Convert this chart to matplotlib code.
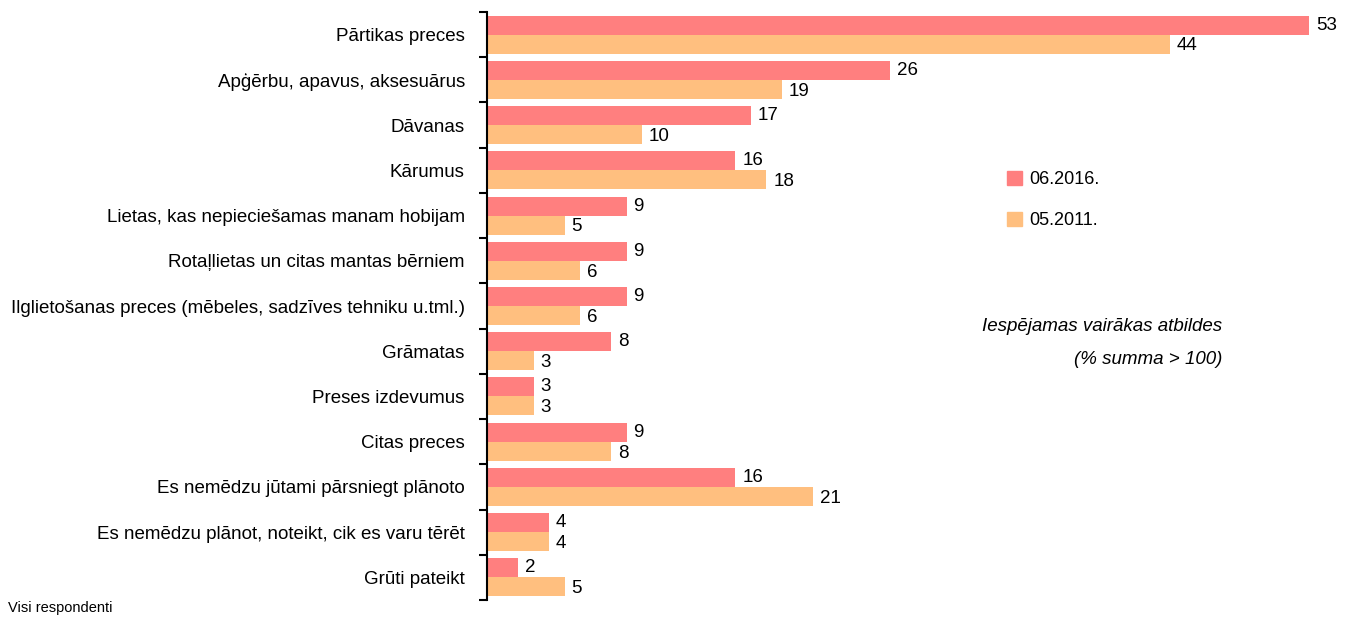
import numpy as np
import matplotlib
matplotlib.use("Agg")
import matplotlib.pyplot as plt
from matplotlib.patches import Patch

plt.rcParams['font.family'] = ['Liberation Sans', 'DejaVu Sans']

# Dati
kategorijas = [
    "Pārtikas preces",
    "Apģērbu, apavus, aksesuārus",
    "Dāvanas",
    "Kārumus",
    "Lietas, kas nepieciešamas manam hobijam",
    "Rotaļlietas un citas mantas bērniem",
    "Ilglietošanas preces (mēbeles, sadzīves tehniku u.tml.)",
    "Grāmatas",
    "Preses izdevumus",
    "Citas preces",
    "Es nemēdzu jūtami pārsniegt plānoto",
    "Es nemēdzu plānot, noteikt, cik es varu tērēt",
    "Grūti pateikt",
]
v_2016 = [53, 26, 17, 16, 9, 9, 9, 8, 3, 9, 16, 4, 2]
v_2011 = [44, 19, 10, 18, 5, 6, 6, 3, 3, 8, 21, 4, 5]
serijas = ["06.2016.", "05.2011."]

krasa_2016 = "#FF7F7F"
krasa_2011 = "#FFBF7F"
fs = 13.5

fig = plt.figure(figsize=(13.51, 6.19), dpi=100)
ax = fig.add_axes([487 / 1351, 19 / 619, 1 - 487 / 1351, 588 / 619])

y = np.arange(len(kategorijas))
h = 0.42
ax.barh(y - h / 2, v_2016, height=h, color=krasa_2016)
ax.barh(y + h / 2, v_2011, height=h, color=krasa_2011)

for yi, v in zip(y, v_2016):
    ax.text(v + 0.45, yi - h / 2, str(v), va="center", ha="left", fontsize=fs)
for yi, v in zip(y, v_2011):
    ax.text(v + 0.45, yi + h / 2 + 0.04, str(v), va="center", ha="left", fontsize=fs)

ax.set_xlim(0, 55.7)
ax.set_ylim(len(kategorijas) - 0.5, -0.5)

# ticks at category boundaries, labels at centres
ax.set_yticks(np.arange(-0.5, len(kategorijas)))
ax.set_yticklabels([])
ax.set_yticks(y, minor=True)
ax.set_yticklabels(kategorijas, minor=True, fontsize=fs)
ax.tick_params(axis="y", which="major", length=6, width=1.5, direction="out")
ax.tick_params(axis="y", which="minor", length=0, pad=16)
ax.set_xticks([])
for s in ["top", "right", "bottom"]:
    ax.spines[s].set_visible(False)
ax.spines["left"].set_linewidth(1.5)

handles = [Patch(color=krasa_2016), Patch(color=krasa_2011)]
fig.legend(handles, serijas, loc="upper left", bbox_to_anchor=(991 / 1351, 1 - 155 / 619),
           frameon=False, fontsize=13, handlelength=0.8, handleheight=0.8,
           handletextpad=0.4, labelspacing=1.3)

fig.text(1222 / 1351, 1 - 326 / 619, "Iespējamas vairākas atbildes", ha="right", va="center",
         fontsize=fs, style="italic")
fig.text(1222 / 1351, 1 - 360 / 619, "(% summa > 100)", ha="right", va="center",
         fontsize=fs, style="italic")
fig.text(8 / 1351, 1 - 608 / 619, "Visi respondenti", ha="left", va="center", fontsize=10.5)

fig.savefig("out.png", dpi=100)
